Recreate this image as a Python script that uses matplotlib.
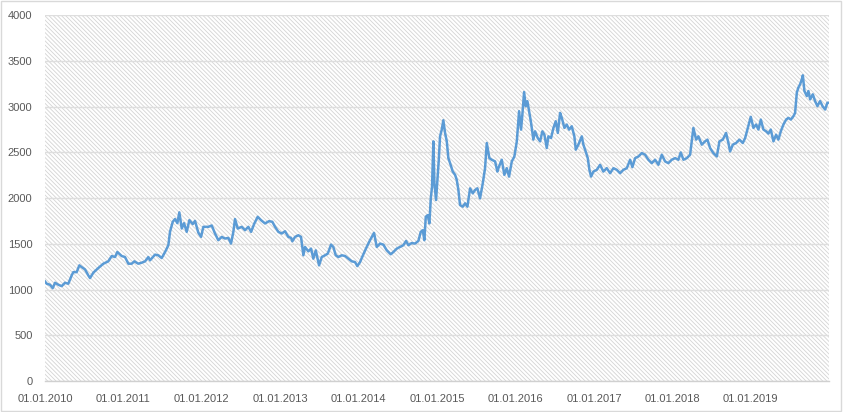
import numpy as np
import pandas as pd
import matplotlib
matplotlib.use("Agg")
import matplotlib.pyplot as plt
import matplotlib.dates as mdates
from matplotlib.patches import Rectangle

# years since 01.01.2010
years = [
    0.000, 0.022, 0.064, 0.098, 0.128, 0.170, 0.213, 0.255, 0.297, 0.340,
    0.361, 0.404, 0.438, 0.468, 0.510, 0.552, 0.574, 0.616, 0.680, 0.744,
    0.807, 0.851, 0.893, 0.922, 0.978, 1.020, 1.063, 1.106, 1.139, 1.190,
    1.233, 1.276, 1.318, 1.339, 1.403, 1.445, 1.488, 1.531, 1.573, 1.594,
    1.629, 1.658, 1.688, 1.713, 1.744, 1.773, 1.807, 1.841, 1.884, 1.913,
    1.955, 1.990, 2.019, 2.083, 2.126, 2.168, 2.210, 2.254, 2.296, 2.338,
    2.372, 2.402, 2.423, 2.458, 2.509, 2.551, 2.593, 2.628, 2.670, 2.713,
    2.755, 2.806, 2.857, 2.899, 2.934, 2.976, 3.019, 3.061, 3.103, 3.138,
    3.154, 3.189, 3.231, 3.265, 3.295, 3.316, 3.358, 3.393, 3.422, 3.453,
    3.495, 3.529, 3.571, 3.606, 3.648, 3.677, 3.708, 3.741, 3.784, 3.827,
    3.869, 3.912, 3.954, 3.983, 4.018, 4.060, 4.103, 4.145, 4.196, 4.231,
    4.273, 4.315, 4.358, 4.409, 4.443, 4.486, 4.528, 4.570, 4.605, 4.634,
    4.677, 4.719, 4.762, 4.792, 4.818, 4.838, 4.856, 4.881, 4.902, 4.920,
    4.936, 4.953, 4.966, 4.987, 5.004, 5.022, 5.038, 5.060, 5.080, 5.102,
    5.124, 5.144, 5.166, 5.200, 5.230, 5.251, 5.272, 5.293, 5.328, 5.357,
    5.387, 5.421, 5.455, 5.485, 5.514, 5.548, 5.583, 5.612, 5.634, 5.667,
    5.698, 5.740, 5.769, 5.782, 5.825, 5.858, 5.889, 5.918, 5.953, 5.986,
    6.017, 6.046, 6.071, 6.088, 6.110, 6.131, 6.152, 6.173, 6.199, 6.228,
    6.250, 6.284, 6.314, 6.343, 6.369, 6.399, 6.420, 6.454, 6.484, 6.514,
    6.540, 6.569, 6.591, 6.624, 6.654, 6.684, 6.718, 6.751, 6.769, 6.802,
    6.846, 6.866, 6.888, 6.922, 6.943, 6.964, 6.994, 7.037, 7.079, 7.121,
    7.164, 7.207, 7.249, 7.292, 7.334, 7.376, 7.420, 7.462, 7.491, 7.526,
    7.568, 7.611, 7.653, 7.695, 7.738, 7.781, 7.823, 7.866, 7.908, 7.950,
    7.993, 8.036, 8.078, 8.108, 8.142, 8.185, 8.227, 8.269, 8.304, 8.333,
    8.376, 8.418, 8.448, 8.482, 8.524, 8.568, 8.601, 8.644, 8.686, 8.716,
    8.737, 8.772, 8.814, 8.856, 8.899, 8.929, 8.958, 9.001, 9.035, 9.069,
    9.098, 9.129, 9.162, 9.197, 9.226, 9.256, 9.290, 9.324, 9.353, 9.384,
    9.417, 9.452, 9.481, 9.512, 9.545, 9.566, 9.588, 9.608, 9.630, 9.652,
    9.665, 9.685, 9.716, 9.736, 9.758, 9.792, 9.821, 9.851, 9.885, 9.916,
    9.949, 9.978, 10.000,
]

values = [
    1088, 1063, 1052, 1015, 1074, 1052, 1037, 1074, 1063, 1154,
    1190, 1190, 1264, 1245, 1220, 1154, 1125, 1184, 1235, 1282,
    1308, 1366, 1355, 1410, 1366, 1355, 1282, 1282, 1308, 1282,
    1293, 1308, 1355, 1319, 1381, 1374, 1344, 1410, 1484, 1630,
    1740, 1770, 1725, 1843, 1667, 1725, 1630, 1758, 1715, 1750,
    1622, 1575, 1685, 1685, 1700, 1612, 1539, 1575, 1557, 1564,
    1502, 1630, 1770, 1666, 1685, 1648, 1685, 1630, 1722, 1795,
    1758, 1722, 1747, 1740, 1685, 1630, 1612, 1637, 1575, 1564,
    1527, 1575, 1593, 1575, 1374, 1465, 1417, 1447, 1337, 1428,
    1264, 1355, 1374, 1392, 1491, 1465, 1374, 1355, 1374, 1366,
    1337, 1308, 1300, 1256, 1300, 1385, 1465, 1539, 1619, 1465,
    1502, 1490, 1429, 1385, 1410, 1447, 1465, 1484, 1531, 1484,
    1508, 1502, 1531, 1630, 1648, 1539, 1795, 1813, 1722, 1996,
    2125, 2619, 2161, 1978, 2198, 2418, 2674, 2747, 2850, 2711,
    2619, 2436, 2381, 2289, 2253, 2198, 2088, 1923, 1905, 1942,
    1905, 2106, 2051, 2088, 2106, 1996, 2161, 2326, 2601, 2436,
    2418, 2400, 2289, 2326, 2418, 2253, 2326, 2234, 2399, 2454,
    2619, 2949, 2747, 2912, 3158, 3003, 3058, 2949, 2821, 2638,
    2729, 2656, 2619, 2729, 2692, 2546, 2674, 2656, 2766, 2839,
    2711, 2930, 2876, 2766, 2803, 2747, 2784, 2674, 2528, 2583,
    2674, 2583, 2528, 2436, 2308, 2234, 2289, 2308, 2363, 2289,
    2326, 2271, 2326, 2308, 2271, 2308, 2326, 2418, 2337, 2436,
    2454, 2491, 2473, 2418, 2381, 2418, 2363, 2473, 2400, 2381,
    2418, 2436, 2418, 2498, 2418, 2436, 2473, 2766, 2638, 2674,
    2583, 2619, 2638, 2546, 2491, 2454, 2619, 2638, 2711, 2601,
    2509, 2583, 2601, 2638, 2601, 2656, 2748, 2887, 2766, 2803,
    2748, 2857, 2748, 2729, 2704, 2748, 2619, 2692, 2638, 2729,
    2803, 2857, 2876, 2857, 2894, 2930, 3151, 3206, 3243, 3297,
    3341, 3169, 3114, 3169, 3078, 3133, 3059, 3004, 3059, 3004,
    2967, 3041, 3041,
]

tick_years = list(range(2010, 2020))
y_ticks = [0, 500, 1000, 1500, 2000, 2500, 3000, 3500, 4000]

start = pd.Timestamp("2010-01-01")
dates = [start + pd.Timedelta(days=y * 365.25) for y in years]

plt.rcParams["font.family"] = ["Liberation Sans", "DejaVu Sans"]
plt.rcParams["hatch.linewidth"] = 0.6

fig = plt.figure(figsize=(8.43, 4.12), dpi=100)
ax = fig.add_axes([0.0534, 0.0752, 0.9300, 0.8884])

# hatched plot area (fine downward diagonal pattern)
ax.add_patch(Rectangle((0, 0), 1, 1, transform=ax.transAxes, facecolor="none",
                       edgecolor="#d4d4d4", linewidth=0, hatch="\\" * 8, zorder=0))

ax.plot(dates, values, color="#5b9bd5", linewidth=1.8, zorder=3)

ax.set_ylim(0, 4000)
ax.set_yticks(y_ticks)
ax.set_xlim(pd.Timestamp("2010-01-01"), pd.Timestamp("2020-01-01"))
ax.set_xticks([pd.Timestamp(f"{y}-01-01") for y in tick_years])
ax.xaxis.set_major_formatter(mdates.DateFormatter("%d.%m.%Y"))

ax.grid(axis="y", color="#dedede", linewidth=1.0, zorder=1)
ax.set_axisbelow(True)
for s in ["left", "right", "top"]:
    ax.spines[s].set_visible(False)
ax.spines["bottom"].set_color("#d0d0d0")
ax.spines["bottom"].set_linewidth(1.0)

ax.tick_params(axis="both", length=0, labelsize=8, colors="#595959")
ax.tick_params(axis="y", pad=9)
ax.tick_params(axis="x", pad=9)

# outer frame of the chart
fig.patches.append(Rectangle((0.001, 0.002), 0.997, 0.995, transform=fig.transFigure,
                             fill=False, edgecolor="#d9d9d9", linewidth=1.0))

fig.savefig("out.png", dpi=100)
